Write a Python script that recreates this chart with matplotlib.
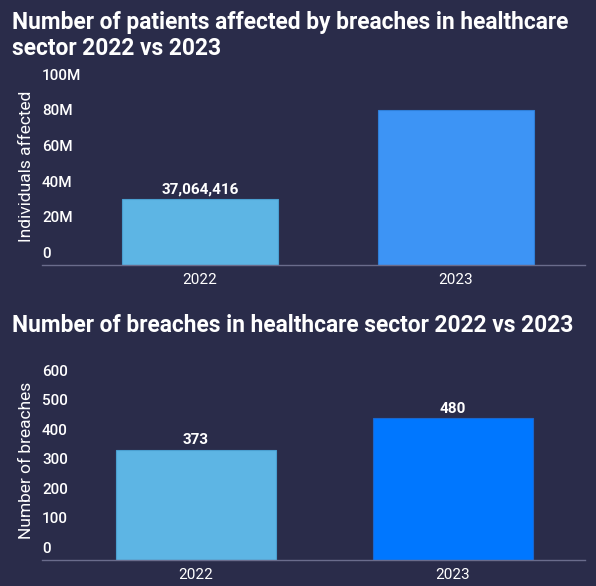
import matplotlib.pyplot as plt
from matplotlib.transforms import ScaledTranslation

# data
years = ["2022", "2023"]
patients = [37064416, 87100000]
patient_labels = ["37,064,416", ""]
breaches = [373, 480]
breach_labels = ["373", "480"]

patient_ticks = [0, 20e6, 40e6, 60e6, 80e6, 100e6]
patient_ticklabels = ["0", "20M", "40M", "60M", "80M", "100M"]
breach_ticks = [0, 100, 200, 300, 400, 500, 600]

bg = "#2a2c4a"
light_blue = "#5db5e4"
plt.rcParams['font.family'] = ['Roboto', 'DejaVu Sans']

W, H = 596, 586
fig = plt.figure(figsize=(W / 100, H / 100), dpi=100, facecolor=bg)


def px_axes(left, bottom, right, top):
    return fig.add_axes([left / W, 1 - bottom / H, (right - left) / W, (bottom - top) / H])


def style(ax, ticks, ticklabels, ylabel, label_y):
    ax.set_facecolor(bg)
    for s in ["top", "right", "left"]:
        ax.spines[s].set_visible(False)
    ax.spines["bottom"].set_color("#6a6c8c")
    ax.spines["bottom"].set_linewidth(1)
    ax.set_yticks(ticks)
    ax.set_yticklabels(ticklabels, fontweight="medium")
    ax.tick_params(axis="y", length=0, pad=0, colors="white", labelsize=11)
    ax.tick_params(axis="x", length=0, pad=6, colors="white", labelsize=11)
    off = ScaledTranslation(0, 3 / 72, fig.dpi_scale_trans)
    for lab in ax.get_yticklabels():
        lab.set_horizontalalignment("left")
        lab.set_verticalalignment("bottom")
        lab.set_transform(lab.get_transform() + off)
    ax.set_ylabel(ylabel, color="white", fontsize=12.5)
    ax.yaxis.set_label_coords(-0.014, label_y)


# top chart
ax1 = px_axes(42, 265, 585, 87)
b1 = ax1.bar(years, patients, width=0.61, color=[light_blue, "#3d94f5"],
             edgecolor=["#4a9fd0", "#2f7fd8"], linewidth=0.8)
ax1.set_ylim(0, 100e6)
ax1.set_xlim(-0.617, 1.504)
style(ax1, patient_ticks, patient_ticklabels, "Individuals affected", 0.556)
ax1.bar_label(b1, labels=patient_labels, padding=2, color="white",
              fontsize=11, fontweight="bold")

# bottom chart
ax2 = px_axes(42, 560, 585, 383)
b2 = ax2.bar(years, breaches, width=0.625, color=[light_blue, "#0077ff"],
             edgecolor=["#4a9fd0", "#1a66cc"], linewidth=0.8)
ax2.set_ylim(0, 600)
ax2.set_xlim(-0.6, 1.515)
style(ax2, breach_ticks, [str(t) for t in breach_ticks], "Number of breaches", 0.565)
ax2.bar_label(b2, labels=breach_labels, padding=2, color="white",
              fontsize=11, fontweight="bold")

fig.text(12 / W, 1 - 11 / H, "Number of patients affected by breaches in healthcare\nsector 2022 vs 2023",
         color="white", fontsize=16.4, fontweight="bold", va="top", ha="left", linespacing=1.15)
fig.text(12 / W, 1 - 314 / H, "Number of breaches in healthcare sector 2022 vs 2023",
         color="white", fontsize=16.4, fontweight="bold", va="top", ha="left")

fig.savefig("out.png", dpi=100, facecolor=bg)
